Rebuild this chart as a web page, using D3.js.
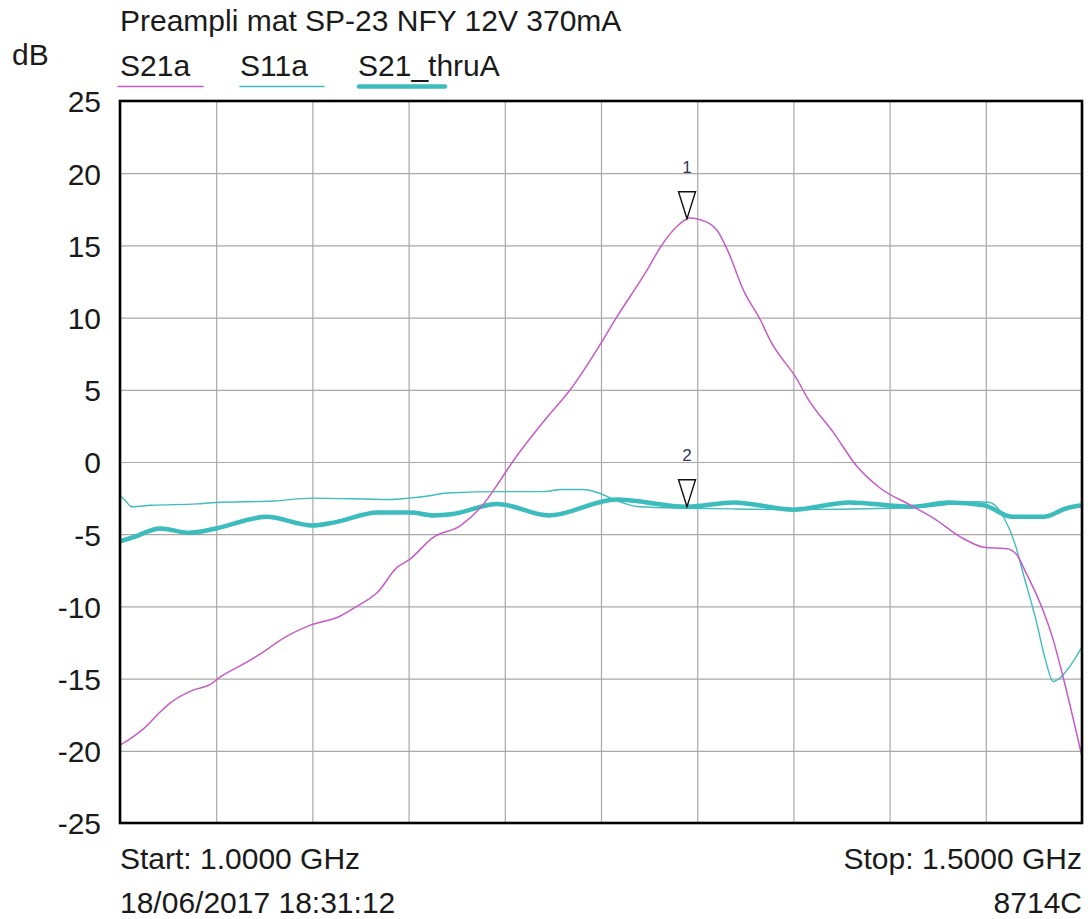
<!DOCTYPE html>
<html>
<head>
<meta charset="utf-8">
<script src="https://cdn.jsdelivr.net/npm/d3@7"></script>
<style>
  html, body { margin: 0; padding: 0; background: #fff; }
  svg { display: block; }
  text { font-family: "Liberation Sans", Arial, sans-serif; fill: #1a1a1a; }
</style>
</head>
<body>
<svg id="chart" width="1088" height="919"></svg>
<script>
// ---- Data ----
const title = "Preampli mat SP-23 NFY 12V 370mA";
const yUnit = "dB";
const yTicks = [25, 20, 15, 10, 5, 0, -5, -10, -15, -20, -25];
const xGrid = [1.00, 1.05, 1.10, 1.15, 1.20, 1.25, 1.30, 1.35, 1.40, 1.45, 1.50];
const startLabel = "Start: 1.0000 GHz";
const stopLabel = "Stop: 1.5000 GHz";
const dateLabel = "18/06/2017 18:31:12";
const instrument = "8714C";
const seriesNames = ["S21a", "S11a", "S21_thruA"];

const s21aFreq = [1.000, 1.006, 1.012, 1.021, 1.026, 1.038, 1.047, 1.052, 1.064, 1.074, 1.085, 1.099, 1.114, 1.123, 1.134, 1.144, 1.150, 1.163, 1.177, 1.189, 1.196, 1.204, 1.222, 1.234, 1.248, 1.258, 1.274, 1.281, 1.291, 1.296, 1.301, 1.310, 1.316, 1.324, 1.333, 1.338, 1.352, 1.357, 1.371, 1.383, 1.395, 1.411, 1.423, 1.437, 1.449, 1.461, 1.466, 1.471, 1.478, 1.485, 1.490, 1.500];
const s21aDb   = [-19.6, -19.1, -18.5, -17.3, -16.7, -15.8, -15.4, -14.9, -14.0, -13.2, -12.2, -11.3, -10.7, -10.0, -9.0, -7.3, -6.8, -5.2, -4.4, -2.9, -1.6, 0.0, 3.1, 5.0, 7.8, 10.0, 13.3, 14.9, 16.5, 16.9, 16.8, 16.1, 14.6, 11.9, 9.8, 8.4, 5.7, 4.5, 2.0, -0.3, -1.8, -3.0, -3.9, -5.2, -5.9, -6.0, -6.4, -7.7, -9.7, -12.3, -14.8, -20.4];

const s11aFreq = [1.000, 1.003, 1.006, 1.016, 1.040, 1.050, 1.080, 1.100, 1.140, 1.150, 1.160, 1.170, 1.200, 1.220, 1.230, 1.240, 1.250, 1.255, 1.270, 1.295, 1.320, 1.350, 1.400, 1.420, 1.445, 1.452, 1.460, 1.465, 1.470, 1.476, 1.481, 1.485, 1.489, 1.495, 1.500];
const s11aDb   = [-2.3, -2.7, -3.1, -3.0, -2.9, -2.8, -2.7, -2.5, -2.6, -2.5, -2.35, -2.15, -2.05, -2.05, -1.9, -1.9, -2.2, -2.5, -3.1, -3.2, -3.25, -3.3, -3.2, -3.1, -2.75, -2.8, -4.0, -5.6, -8.0, -10.9, -13.7, -15.2, -14.9, -13.9, -12.8];

const thruFreq = [1.000, 1.007, 1.021, 1.036, 1.050, 1.076, 1.100, 1.111, 1.134, 1.151, 1.163, 1.173, 1.196, 1.223, 1.258, 1.295, 1.319, 1.350, 1.379, 1.411, 1.431, 1.449, 1.464, 1.480, 1.492, 1.500];
const thruDb   = [-5.5, -5.2, -4.6, -4.9, -4.6, -3.8, -4.4, -4.2, -3.5, -3.5, -3.7, -3.6, -2.9, -3.7, -2.6, -3.1, -2.8, -3.3, -2.8, -3.1, -2.8, -3.0, -3.8, -3.8, -3.2, -3.0];

const markerIds  = ["1", "2"];
const markerFreq = [1.2947, 1.2947];
const markerDb   = [16.85, -3.1];

// ---- Layout ----
const svg = d3.select("#chart");
const L = 120, R = 1082, T = 101, B = 823;
const x = d3.scaleLinear().domain([1.0, 1.5]).range([L, R]);
const y = d3.scaleLinear().domain([-25, 25]).range([B, T]);

const colors = { S21a: "#c65cc6", S11a: "#40bcbc", S21_thruA: "#3cbcbc" };
const widths = { S21a: 1.5, S11a: 1.4, S21_thruA: 4.5 };
const FONT = 30;

// Gridlines
const gx = svg.append("g").attr("transform", `translate(0,${B})`)
  .call(d3.axisBottom(x).tickValues(xGrid).tickSize(-(B - T)).tickFormat(""));
gx.select(".domain").remove();
gx.selectAll("line").attr("stroke", "#a9a9a9").attr("stroke-width", 1.2);

const gy = svg.append("g").attr("transform", `translate(${L},0)`)
  .call(d3.axisLeft(y).tickValues(yTicks).tickSize(-(R - L)).tickFormat(""));
gy.select(".domain").remove();
gy.selectAll("line").attr("stroke", "#a9a9a9").attr("stroke-width", 1.2);

// Y tick labels (plain hyphen minus as in the reference)
const gyl = svg.append("g").attr("transform", `translate(${L},0)`)
  .call(d3.axisLeft(y).tickValues(yTicks).tickSize(0).tickPadding(19).tickFormat(d => String(d)));
gyl.select(".domain").remove();
gyl.selectAll("text")
  .style("font-family", '"Liberation Sans", Arial, sans-serif')
  .attr("font-size", FONT).attr("fill", "#1a1a1a").attr("dy", "0.36em");

// Clip
svg.append("clipPath").attr("id", "clip")
  .append("rect").attr("x", L).attr("y", T).attr("width", R - L).attr("height", B - T);

const line = d3.line().x(d => x(d[0])).y(d => y(d[1])).curve(d3.curveMonotoneX);
const plot = svg.append("g").attr("clip-path", "url(#clip)");

const series = [
  { name: "S11a", f: s11aFreq, v: s11aDb },
  { name: "S21_thruA", f: thruFreq, v: thruDb },
  { name: "S21a", f: s21aFreq, v: s21aDb }
];
series.forEach(s => {
  plot.append("path")
    .datum(s.f.map((f, i) => [f, s.v[i]]))
    .attr("fill", "none")
    .attr("stroke", colors[s.name])
    .attr("stroke-width", widths[s.name])
    .attr("stroke-linejoin", "round")
    .attr("stroke-linecap", "round")
    .attr("d", line);
});

// Border
svg.append("rect").attr("x", L).attr("y", T).attr("width", R - L).attr("height", B - T)
  .attr("fill", "none").attr("stroke", "#000").attr("stroke-width", 2.6);

// Markers
markerIds.forEach((id, i) => {
  const mx = x(markerFreq[i]), my = y(markerDb[i]);
  svg.append("path")
    .attr("d", `M${mx},${my} L${mx - 8.5},${my - 27} L${mx + 8.5},${my - 27} Z`)
    .attr("fill", "#fff").attr("stroke", "#111").attr("stroke-width", 1.4);
  svg.append("text").attr("x", mx).attr("y", my - 46).attr("text-anchor", "middle")
    .attr("font-size", 17).style("fill", "#2f3560").text(id);
});

// Title and legend
svg.append("text").attr("x", L).attr("y", 31).attr("font-size", FONT).text(title);
svg.append("text").attr("x", 12).attr("y", 65).attr("font-size", FONT).text(yUnit);

const legendX = [120, 240, 358];
const legendLineX = [[118, 203], [240, 324], [359, 445]];
seriesNames.forEach((n, i) => {
  svg.append("text").attr("x", legendX[i]).attr("y", 76).attr("font-size", FONT).text(n);
  svg.append("line")
    .attr("x1", legendLineX[i][0]).attr("x2", legendLineX[i][1])
    .attr("y1", 86.5).attr("y2", 86.5)
    .attr("stroke", colors[n]).attr("stroke-width", n === "S21_thruA" ? 4.5 : 1.6)
    .attr("stroke-linecap", "round");
});

// Footer
svg.append("text").attr("x", L).attr("y", 869).attr("font-size", FONT).text(startLabel);
svg.append("text").attr("x", L).attr("y", 913).attr("font-size", FONT).text(dateLabel);
svg.append("text").attr("x", R).attr("y", 869).attr("font-size", FONT).attr("text-anchor", "end").text(stopLabel);
svg.append("text").attr("x", R).attr("y", 913).attr("font-size", FONT).attr("text-anchor", "end").text(instrument);
</script>
</body>
</html>
